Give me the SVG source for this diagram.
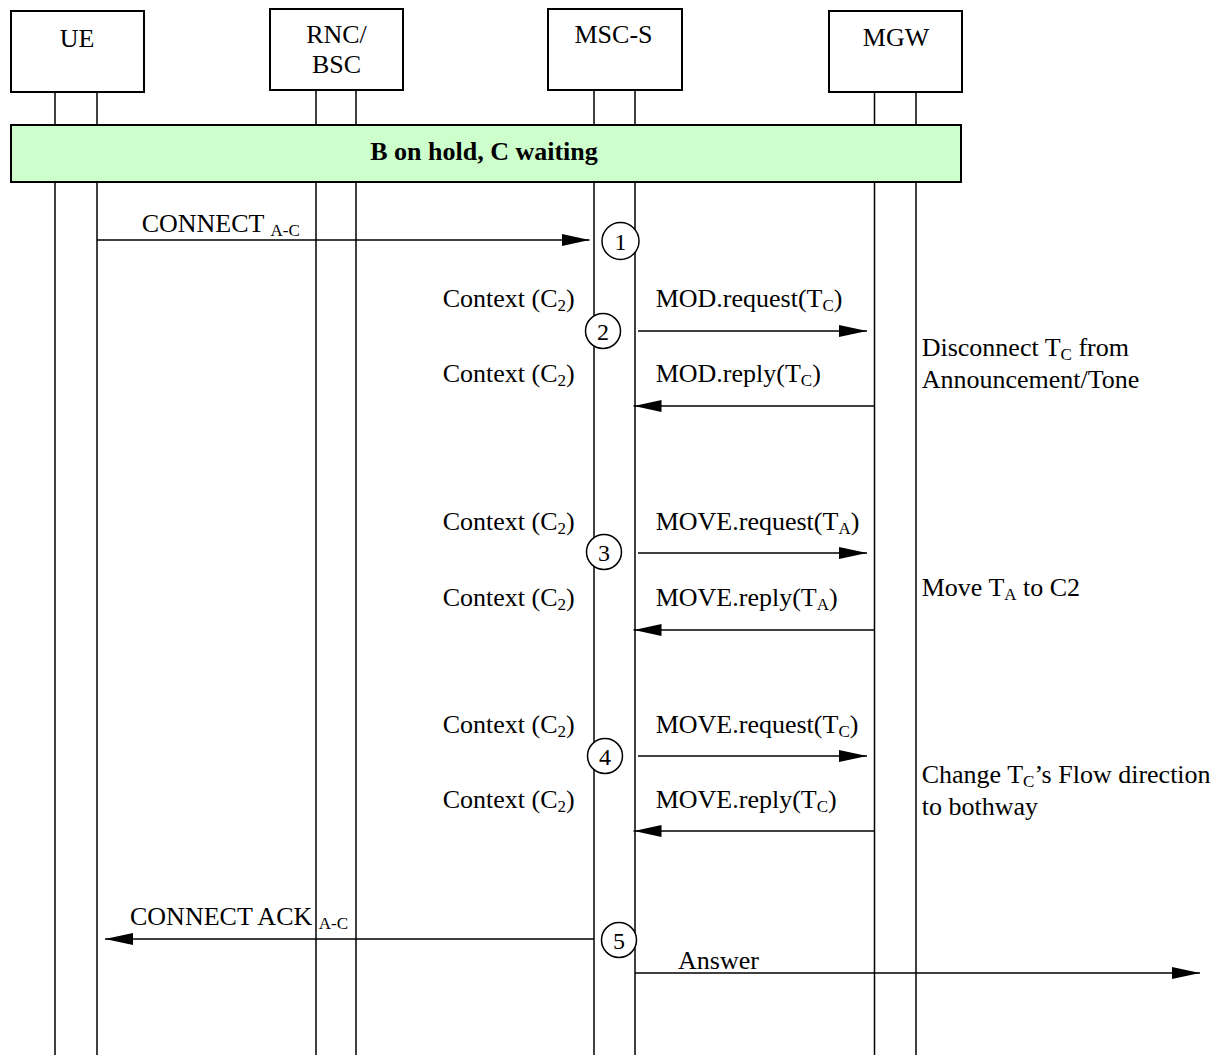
<svg xmlns="http://www.w3.org/2000/svg" width="1222" height="1055" viewBox="0 0 1222 1055">
<defs>
<style>
.box{fill:#fff;stroke:#000;stroke-width:2}
.life{stroke:#000;stroke-width:1.5;fill:none}
.msg{stroke:#000;stroke-width:1.6;fill:none;marker-end:url(#ah)}
.t{font-family:"Liberation Serif","Times New Roman",serif;font-size:26px;fill:#000}
.c{text-anchor:middle}
.b{font-weight:bold}
.s{font-size:17px}
.num{fill:#fff;stroke:#000;stroke-width:1.5}
</style>
<marker id="ah" markerUnits="userSpaceOnUse" markerWidth="28" markerHeight="12" refX="28" refY="6" orient="auto">
<path d="M0,0 L28,6 L0,12 z" fill="#000"/>
</marker>
</defs>
<rect width="1222" height="1055" fill="#fff"/>

<g id="UE">
<line class="life" x1="55" y1="92" x2="55" y2="1055"/>
<line class="life" x1="97" y1="92" x2="97" y2="1055"/>
<rect class="box" x="11" y="11" width="133" height="81"/>
<text class="t c" x="77" y="47">UE</text>
</g>
<g id="RNC_BSC">
<line class="life" x1="316" y1="90" x2="316" y2="1055"/>
<line class="life" x1="356" y1="90" x2="356" y2="1055"/>
<rect class="box" x="270" y="9" width="133" height="81"/>
<text class="t c" x="336.5" y="42.5">RNC/</text>
<text class="t c" x="336.5" y="72.5">BSC</text>
</g>
<g id="MSC_S">
<line class="life" x1="594" y1="90" x2="594" y2="1055"/>
<line class="life" x1="635" y1="90" x2="635" y2="1055"/>
<rect class="box" x="548" y="9" width="134" height="81"/>
<text class="t c" x="613.5" y="42.5">MSC-S</text>
</g>
<g id="MGW">
<line class="life" x1="874.5" y1="92" x2="874.5" y2="1055"/>
<line class="life" x1="916" y1="92" x2="916" y2="1055"/>
<rect class="box" x="829" y="11" width="133" height="81"/>
<text class="t c" x="896" y="46">MGW</text>
</g>

<g id="state_bar">
<rect x="11" y="125" width="950" height="57" fill="#ccffcc" stroke="#000" stroke-width="2"/>
<text class="t c b" x="484" y="160">B on hold, C waiting</text>
</g>

<g id="connectors">
<line class="msg" x1="97" y1="240" x2="589.5" y2="240"/>
<line class="msg" x1="638" y1="331" x2="867" y2="331"/>
<line class="msg" x1="874.5" y1="406" x2="633.5" y2="406"/>
<line class="msg" x1="638" y1="553" x2="867" y2="553"/>
<line class="msg" x1="874.5" y1="630" x2="633.5" y2="630"/>
<line class="msg" x1="638" y1="756" x2="867" y2="756"/>
<line class="msg" x1="874.5" y1="831" x2="633.5" y2="831"/>
<line class="msg" x1="594" y1="939" x2="105" y2="939"/>
<line class="msg" x1="635" y1="973" x2="1200" y2="973"/>
</g>

<g id="steps">
<g id="step1"><circle class="num" cx="620.5" cy="241" r="18.5"/><text class="t c" x="620.5" y="250" style="font-size:24px">1</text></g>
<g id="step2"><circle class="num" cx="603" cy="331" r="17.5"/><text class="t c" x="603" y="339.5" style="font-size:24px">2</text></g>
<g id="step3"><circle class="num" cx="604" cy="552" r="17.5"/><text class="t c" x="604" y="560.5" style="font-size:24px">3</text></g>
<g id="step4"><circle class="num" cx="605" cy="756" r="17.5"/><text class="t c" x="605" y="764.5" style="font-size:24px">4</text></g>
<g id="step5"><circle class="num" cx="619" cy="940" r="17.5"/><text class="t c" x="619" y="948.5" style="font-size:24px">5</text></g>
</g>

<g id="labels">
<text class="t" x="141.7" y="232.3">CONNECT <tspan class="s" dy="4">A-C</tspan></text>

<text class="t" x="442.7" y="307">Context (C<tspan class="s" dy="4">2</tspan><tspan dy="-4">)</tspan></text>
<text class="t" x="655.7" y="307">MOD.request(T<tspan class="s" dy="4">C</tspan><tspan dy="-4">)</tspan></text>
<text class="t" x="442.7" y="382">Context (C<tspan class="s" dy="4">2</tspan><tspan dy="-4">)</tspan></text>
<text class="t" x="655.7" y="382">MOD.reply(T<tspan class="s" dy="4">C</tspan><tspan dy="-4">)</tspan></text>
<text class="t" x="921.7" y="356">Disconnect T<tspan class="s" dy="4">C</tspan><tspan dy="-4"> from</tspan></text>
<text class="t" x="921.7" y="388">Announcement/Tone</text>

<text class="t" x="442.7" y="530">Context (C<tspan class="s" dy="4">2</tspan><tspan dy="-4">)</tspan></text>
<text class="t" x="655.7" y="530">MOVE.request(T<tspan class="s" dy="4">A</tspan><tspan dy="-4">)</tspan></text>
<text class="t" x="442.7" y="606">Context (C<tspan class="s" dy="4">2</tspan><tspan dy="-4">)</tspan></text>
<text class="t" x="655.7" y="606">MOVE.reply(T<tspan class="s" dy="4">A</tspan><tspan dy="-4">)</tspan></text>
<text class="t" x="921.7" y="596">Move T<tspan class="s" dy="4">A</tspan><tspan dy="-4"> to C2</tspan></text>

<text class="t" x="442.7" y="733">Context (C<tspan class="s" dy="4">2</tspan><tspan dy="-4">)</tspan></text>
<text class="t" x="655.7" y="733">MOVE.request(T<tspan class="s" dy="4">C</tspan><tspan dy="-4">)</tspan></text>
<text class="t" x="442.7" y="808">Context (C<tspan class="s" dy="4">2</tspan><tspan dy="-4">)</tspan></text>
<text class="t" x="655.7" y="808">MOVE.reply(T<tspan class="s" dy="4">C</tspan><tspan dy="-4">)</tspan></text>
<text class="t" x="921.7" y="783">Change T<tspan class="s" dy="4">C</tspan><tspan dy="-4">’s Flow direction</tspan></text>
<text class="t" x="921.7" y="815">to bothway</text>

<text class="t" x="130" y="925">CONNECT ACK <tspan class="s" dy="4">A-C</tspan></text>
<text class="t" x="678" y="969">Answer</text>
</g>
</svg>
